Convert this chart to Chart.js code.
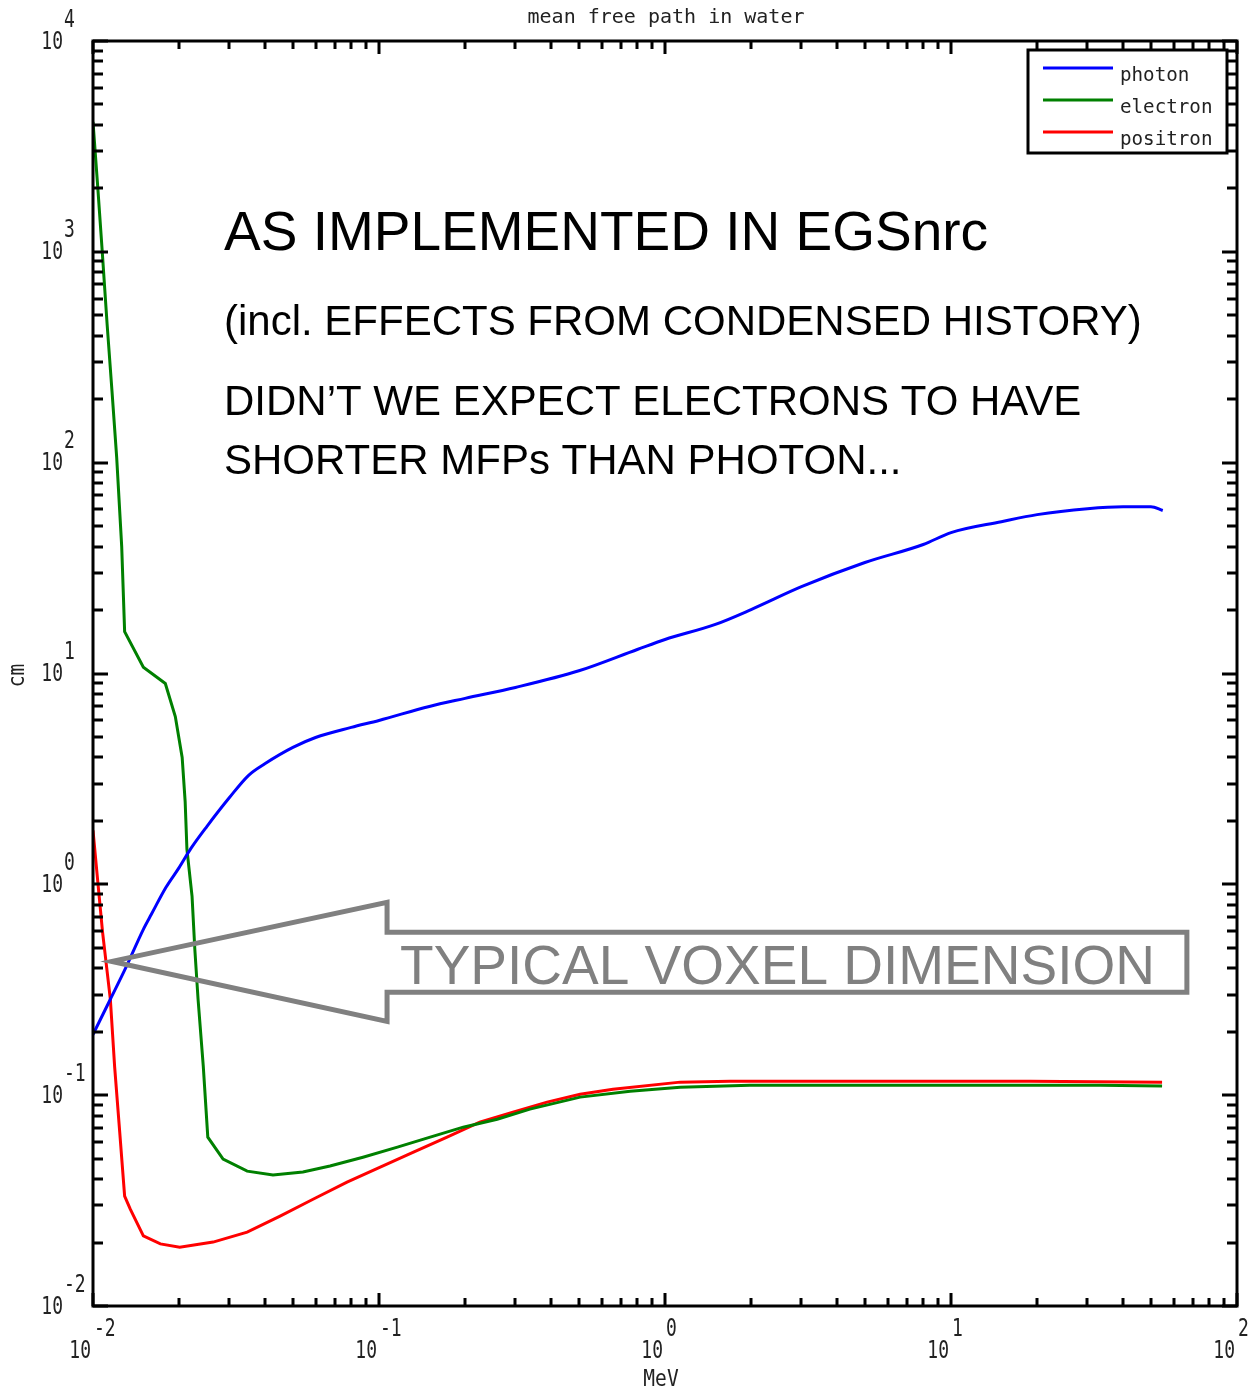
<!DOCTYPE html>
<html>
<head>
<meta charset="utf-8">
<title>mean free path in water</title>
<script src="https://cdn.jsdelivr.net/npm/chart.js@4.4.1/dist/chart.umd.min.js"></script>
<style>
  html, body { margin: 0; padding: 0; background: #fff; }
  #wrap { width: 1259px; height: 1397px; }
</style>
</head>
<body>
<div id="wrap"><canvas id="mfpChart" width="1259" height="1397"></canvas></div>
<script>
// energies in MeV, mean free paths in cm
const photonEnergy = [0.01, 0.0115, 0.013, 0.015, 0.016, 0.018, 0.02, 0.022, 0.025, 0.03, 0.035, 0.04, 0.05, 0.06, 0.08, 0.1,
  0.15, 0.2, 0.3, 0.5, 0.8, 1, 1.5, 2, 3, 5, 8, 10, 15, 20, 30, 40, 50, 55];
const photonMfp = [0.194, 0.285, 0.400, 0.612, 0.721, 0.968, 1.20, 1.48, 1.88, 2.58, 3.29, 3.74, 4.46, 4.97, 5.55, 5.99,
  6.98, 7.62, 8.59, 10.3, 13.0, 14.5, 17.1, 20.1, 25.8, 33.6, 40.9, 46.6, 52.5, 56.7, 60.5, 61.8, 61.8, 59.3];

const electronEnergy = [0.01, 0.0104, 0.01075, 0.0112, 0.01165, 0.0121, 0.0126, 0.0129, 0.015, 0.0179, 0.0194, 0.0205,
  0.021, 0.0213, 0.0222, 0.0227, 0.0233, 0.0243, 0.0252, 0.0285, 0.0346, 0.0426, 0.0542, 0.0674, 0.0879, 0.116, 0.151,
  0.197, 0.259, 0.337, 0.505, 0.755, 1.13, 1.98, 5.88, 14.8, 33.2, 54.7];
const electronMfp = [4130, 1990, 1045, 456, 219, 106, 40.0, 15.8, 10.7, 8.97, 6.25, 4.00,
  2.47, 1.47, 0.877, 0.492, 0.285, 0.137, 0.0632, 0.0498, 0.0436, 0.0418, 0.0432, 0.0461, 0.0508, 0.0567, 0.0632,
  0.0705, 0.0769, 0.0859, 0.0979, 0.1045, 0.109, 0.1115, 0.1115, 0.1115, 0.1115, 0.1104];

const positronEnergy = [0.01, 0.0104, 0.0108, 0.0115, 0.0119, 0.0124, 0.0129, 0.0135, 0.015, 0.0172, 0.0201, 0.0263,
  0.0346, 0.0451, 0.0588, 0.0773, 0.101, 0.132, 0.173, 0.225, 0.294, 0.387, 0.505, 0.658, 1.13, 1.69, 18.9, 54.7];
const positronMfp = [1.80, 1.02, 0.593, 0.285, 0.137, 0.0668, 0.0332, 0.0288, 0.0215, 0.0197, 0.0190, 0.0201,
  0.0224, 0.0267, 0.0321, 0.0387, 0.0456, 0.0537, 0.0632, 0.0745, 0.0830, 0.0927, 0.101, 0.1067, 0.1153, 0.1164, 0.1164, 0.1153];

const seriesNames = ["photon", "electron", "positron"];
const seriesColors = ["#0000ff", "#008000", "#ff0000"];

// the big gray arrow, in data units (MeV, cm)
const arrowTip = [0.01165, 0.431];
const arrowNeckX = 0.1067;
const arrowEndX = 66.8;
const arrowHeadY = [0.822, 0.224];
const arrowShaftY = [0.593, 0.308];

const notes = [
  { text: "AS IMPLEMENTED IN EGSnrc", y: 233, size: 55 },
  { text: "(incl. EFFECTS FROM CONDENSED HISTORY)", y: 321, size: 42 },
  { text: "DIDN\u2019T WE EXPECT ELECTRONS TO HAVE", y: 401, size: 42 },
  { text: "SHORTER MFPs THAN PHOTON...", y: 460, size: 42 }
];

const pixelFont = '"DejaVu Sans Mono", monospace';

function pairUp(xs, ys) {
  return xs.map((x, i) => ({ x: x, y: ys[i] }));
}

// draws text squeezed horizontally, like the narrow bitmap font of the original
function squeezeText(ctx, txt, x, y, align, sx) {
  ctx.save();
  ctx.translate(x, y);
  ctx.scale(sx, 1);
  ctx.textAlign = align;
  ctx.fillText(txt, 0, 0);
  ctx.restore();
}

// inward ticks on both sides of a log axis
function logTicks(ctx, scale, area, horizontal, major, minor) {
  const lo = Math.round(Math.log10(scale.min));
  const hi = Math.round(Math.log10(scale.max));
  ctx.beginPath();
  for (let e = lo; e <= hi; e++) {
    for (let m = 1; m <= 9; m++) {
      const v = m * Math.pow(10, e);
      if (v > scale.max * 1.0001) break;
      const p = Math.round(scale.getPixelForValue(v));
      const len = m === 1 ? major : minor;
      if (horizontal) {
        ctx.moveTo(p, area.bottom); ctx.lineTo(p, area.bottom - len);
        ctx.moveTo(p, area.top); ctx.lineTo(p, area.top + len);
      } else {
        ctx.moveTo(area.left, p); ctx.lineTo(area.left + len, p);
        ctx.moveTo(area.right, p); ctx.lineTo(area.right - len, p);
      }
    }
  }
  ctx.stroke();
}

const decorPlugin = {
  id: "decor",
  afterDatasetsDraw(chart) {
    const ctx = chart.ctx;
    const area = chart.chartArea;
    const xs = chart.scales.x, ys = chart.scales.y;

    // arrow pointing at the typical voxel size
    const px = v => xs.getPixelForValue(v), py = v => ys.getPixelForValue(v);
    ctx.save();
    ctx.strokeStyle = "#808080";
    ctx.lineWidth = 5;
    ctx.lineJoin = "miter";
    ctx.beginPath();
    ctx.moveTo(px(arrowTip[0]), py(arrowTip[1]));
    ctx.lineTo(px(arrowNeckX), py(arrowHeadY[0]));
    ctx.lineTo(px(arrowNeckX), py(arrowShaftY[0]));
    ctx.lineTo(px(arrowEndX), py(arrowShaftY[0]));
    ctx.lineTo(px(arrowEndX), py(arrowShaftY[1]));
    ctx.lineTo(px(arrowNeckX), py(arrowShaftY[1]));
    ctx.lineTo(px(arrowNeckX), py(arrowHeadY[1]));
    ctx.closePath();
    ctx.stroke();
    ctx.fillStyle = "#808080";
    ctx.font = '55px "Liberation Sans", Arial, sans-serif';
    ctx.textBaseline = "middle";
    ctx.textAlign = "left";
    ctx.fillText("TYPICAL VOXEL DIMENSION", px(arrowNeckX) + 13, (py(arrowShaftY[0]) + py(arrowShaftY[1])) / 2 + 7);

    // notes
    ctx.fillStyle = "#000";
    notes.forEach(n => {
      ctx.font = n.size + 'px "Liberation Sans", Arial, sans-serif';
      ctx.fillText(n.text, 224, n.y + 2);
    });

    // frame and ticks
    ctx.strokeStyle = "#000";
    ctx.lineWidth = 3;
    ctx.lineCap = "butt";
    logTicks(ctx, xs, area, true, 13, 8);
    logTicks(ctx, ys, area, false, 15, 10);
    ctx.strokeRect(area.left, area.top, area.right - area.left, area.bottom - area.top);

    // tick labels as 10 with raised exponent
    ctx.fillStyle = "#222";
    ctx.font = "25px " + pixelFont;
    ctx.textBaseline = "middle";
    for (let e = -2; e <= 2; e++) {
      const p = xs.getPixelForValue(Math.pow(10, e));
      squeezeText(ctx, "10", p - 2, area.bottom + 45, "right", 0.72);
      squeezeText(ctx, String(e), p + 1, area.bottom + 23, "left", 0.72);
    }
    for (let e = -2; e <= 4; e++) {
      const p = ys.getPixelForValue(Math.pow(10, e));
      squeezeText(ctx, "10", area.left - 30, p + 1, "right", 0.72);
      squeezeText(ctx, String(e), area.left - 29, p - 21, "left", 0.72);
    }

    // title and axis names
    ctx.font = "20px " + pixelFont;
    squeezeText(ctx, "mean free path in water", (area.left + area.right) / 2 + 1, 18, "center", 1);
    ctx.font = "23px " + pixelFont;
    squeezeText(ctx, "MeV", (area.left + area.right) / 2 - 4, area.bottom + 74, "center", 0.85);
    ctx.save();
    ctx.translate(18, (area.top + area.bottom) / 2 + 2);
    ctx.rotate(-Math.PI / 2);
    squeezeText(ctx, "cm", 0, 0, "center", 0.85);
    ctx.restore();

    // legend box in the top right corner
    const box = { l: 1028, t: 50, r: 1227, b: 153 };
    ctx.fillStyle = "#fff";
    ctx.fillRect(box.l, box.t, box.r - box.l, box.b - box.t);
    ctx.strokeStyle = "#000";
    ctx.lineWidth = 3;
    ctx.strokeRect(box.l, box.t, box.r - box.l, box.b - box.t);
    ctx.font = "20px " + pixelFont;
    chart.data.datasets.forEach((ds, i) => {
      const y = box.t + 18 + i * 32;
      ctx.strokeStyle = ds.borderColor;
      ctx.beginPath();
      ctx.moveTo(box.l + 15, y);
      ctx.lineTo(box.l + 85, y);
      ctx.stroke();
      ctx.fillStyle = "#222";
      squeezeText(ctx, ds.label, box.l + 92, y + 8, "left", 0.96);
    });
    ctx.restore();
  }
};

const ctx = document.getElementById("mfpChart").getContext("2d");
new Chart(ctx, {
  type: "line",
  data: {
    datasets: [
      { label: seriesNames[0], data: pairUp(photonEnergy, photonMfp), borderColor: seriesColors[0], cubicInterpolationMode: "monotone" },
      { label: seriesNames[1], data: pairUp(electronEnergy, electronMfp), borderColor: seriesColors[1] },
      { label: seriesNames[2], data: pairUp(positronEnergy, positronMfp), borderColor: seriesColors[2] }
    ]
  },
  options: {
    responsive: false,
    animation: false,
    devicePixelRatio: 1,
    layout: { padding: { left: 93, right: 22, top: 41, bottom: 91 } },
    elements: {
      line: { borderWidth: 3, tension: 0, fill: false },
      point: { radius: 0 }
    },
    scales: {
      x: {
        type: "logarithmic", min: 0.01, max: 100,
        ticks: { display: false }, grid: { display: false }, border: { display: false },
        afterFit: s => { s.height = 0; }
      },
      y: {
        type: "logarithmic", min: 0.01, max: 10000,
        ticks: { display: false }, grid: { display: false }, border: { display: false },
        afterFit: s => { s.width = 0; }
      }
    },
    plugins: { legend: { display: false }, tooltip: { enabled: false } }
  },
  plugins: [decorPlugin]
});
</script>
</body>
</html>
